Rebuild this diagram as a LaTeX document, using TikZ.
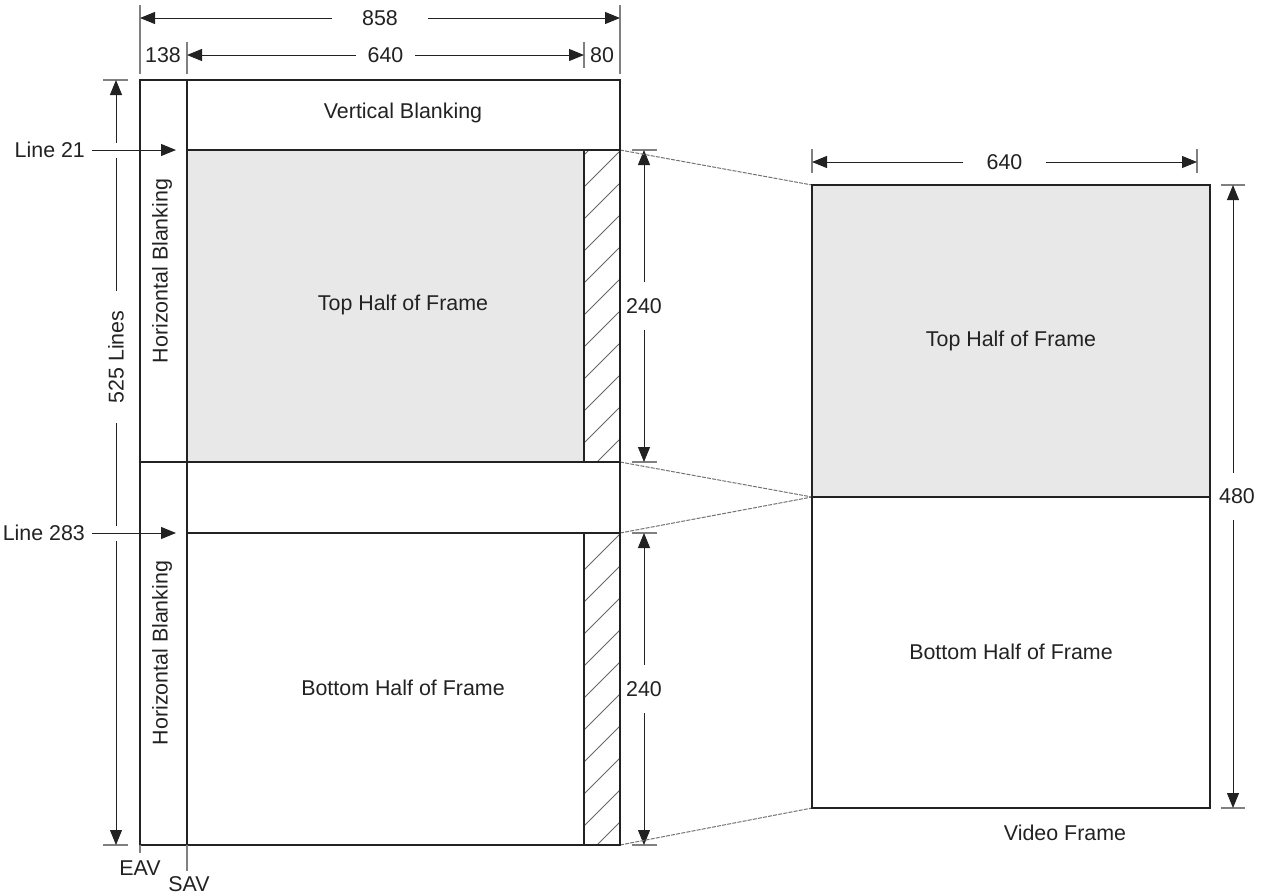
\documentclass[tikz,border=0pt]{standalone}
\usepackage{fontspec}
\setmainfont{Liberation Sans}
\usetikzlibrary{arrows.meta}
\definecolor{framegray}{HTML}{E8E8E8}
\definecolor{inkdark}{HTML}{222222}
\tikzset{
  frameline/.style={draw=inkdark, line width=1.2pt},
  dimtip/.tip={Triangle[length=7.5pt,width=6pt]},
  dimline/.style={draw=inkdark, line width=0.5pt, dimtip-dimtip},
  pointer/.style={draw=inkdark, line width=0.5pt, -dimtip},
  tickline/.style={draw=black!50, line width=0.6pt},
  hatchline/.style={draw=black!60, line width=0.5pt},
  linkline/.style={draw=black!55, line width=0.5pt, dash pattern=on 2pt off 0.6pt},
  dimlabel/.style={fill=white, inner ysep=1pt},
}
\begin{document}
\begin{tikzpicture}[x=0.5pt, y=-0.5pt, every node/.style={font=\fontsize{10.7}{12}\selectfont, text=inkdark}]
  \useasboundingbox (0,0) rectangle (1266,895);

  % corners of the left (interlaced) frame
  \coordinate (eavtop) at (140,80);
  \coordinate (eavbot) at (140,845);
  \coordinate (savtop) at (187,80);
  \coordinate (savbot) at (187,845);
  \coordinate (endtop) at (620,80);
  \coordinate (endbot) at (620,845);
  \coordinate (hatchtop) at (584,150);
  \coordinate (hatchbot) at (584,845);

  % corners of the right (video) frame
  \coordinate (vftl) at (812,185);
  \coordinate (vfml) at (812,497);
  \coordinate (vfbl) at (812,808);
  \coordinate (vftr) at (1210,185);
  \coordinate (vfmr) at (1210,497);
  \coordinate (vfbr) at (1210,808);

  % ticks above the left frame
  \draw[tickline] (140,5) -- (140,74);
  \draw[tickline] (620,5) -- (620,74);
  \draw[tickline] (187,42) -- (187,74);
  \draw[tickline] (584,42) -- (584,68);
  \coordinate (w858l) at (140,18);
  \coordinate (w858r) at (620,18);
  \draw[dimline] (w858l) -- node[dimlabel, inner xsep=15pt] (lbl858) {858} (w858r);
  \coordinate (w640l) at (187,55);
  \coordinate (w640r) at (584,55);
  \draw[dimline] (w640l) -- node[dimlabel, inner xsep=6pt] (lbl640) {640} (w640r);
  \node (lbl138) at (163,55) {138};
  \node (lbl80) at (602,55) {80};

  % 525 lines
  \draw[tickline] (103,80) -- (128,80);
  \draw[tickline] (103,845) -- (128,845);
  \coordinate (h525t) at (116,80);
  \coordinate (h525b) at (116,845);
  \draw[dimline] (h525b) -- node[dimlabel, rotate=90, inner xsep=10pt, pos=0.638] (lbl525) {525 Lines} (h525t);
  \draw[white, line width=7.5pt] (108,150) -- (124,150);
  \draw[white, line width=7.5pt] (108,533) -- (124,533);

  % line markers
  \node[anchor=east] (line21) at (92,150) {Line 21};
  \coordinate (hit21) at (176,150);
  \draw[pointer] (line21) -- (hit21);
  \node[anchor=east] (line283) at (92,533) {Line 283};
  \coordinate (hit283) at (176,533);
  \draw[pointer] (line283) -- (hit283);

  % 240 dimensions
  \draw[tickline] (632,150) -- (657,150);
  \draw[tickline] (632,462) -- (657,462);
  \draw[tickline] (632,533) -- (657,533);
  \draw[tickline] (632,845) -- (657,845);
  \coordinate (h240at) at (644,150);
  \coordinate (h240ab) at (644,462);
  \coordinate (h240bt) at (644,533);
  \coordinate (h240bb) at (644,845);
  \draw[dimline] (h240at) -- node[dimlabel, inner ysep=8pt, inner xsep=1pt] (lbl240a) {240} (h240ab);
  \draw[dimline] (h240bt) -- node[dimlabel, inner ysep=8pt, inner xsep=1pt] (lbl240b) {240} (h240bb);

  % links between the frames
  \draw[linkline] (620,150) -- (vftl);
  \draw[linkline] (620,462) -- (vfml);
  \draw[linkline] (620,533) -- (vfml);
  \draw[linkline] (endbot) -- (vfbl);

  % left frame
  \fill[framegray] (hatchtop) rectangle (187,462);
  \begin{scope}
    \clip (584,150) rectangle (620,462);
    \foreach \y in {155,187,...,507}
      \draw[hatchline] (584,\y) -- ++(36,-36);
  \end{scope}
  \begin{scope}
    \clip (584,533) rectangle (620,845);
    \foreach \y in {570,602,...,890}
      \draw[hatchline] (584,\y) -- ++(36,-36);
  \end{scope}
  \draw[frameline] (eavtop) rectangle (endbot);
  \draw[frameline] (savtop) -- (savbot);
  \draw[frameline] (187,150) -- (620,150);
  \draw[frameline] (140,462) -- (620,462);
  \draw[frameline] (187,533) -- (620,533);
  \draw[frameline] (hatchtop) -- (584,462);
  \draw[frameline] (584,533) -- (hatchbot);
  \node (vblank) at (403,113) {Vertical Blanking};
  \node[rotate=90] (hblanka) at (162,271) {Horizontal Blanking};
  \node[rotate=90] (hblankb) at (162,653) {Horizontal Blanking};
  \node (tophalfa) at (403,305) {Top Half of Frame};
  \node (bothalfa) at (403,688) {Bottom Half of Frame};

  % EAV / SAV
  \draw[tickline] (eavbot) -- (140,853);
  \draw[tickline] (savbot) -- (187,871);
  \node[inner sep=0pt] (eav) at (140,868) {EAV};
  \node[inner sep=0pt] (sav) at (189,884) {SAV};

  % right frame
  \fill[framegray] (vftl) rectangle (vfmr);
  \draw[frameline] (vftl) rectangle (vfbr);
  \draw[frameline] (vfml) -- (vfmr);
  \node (tophalfb) at (1011,341) {Top Half of Frame};
  \node (bothalfb) at (1011,652) {Bottom Half of Frame};
  \node (vframe) at (1065,833) {Video Frame};

  % right frame dimensions
  \draw[tickline] (812,149) -- (812,173);
  \draw[tickline] (1197,149) -- (1197,173);
  \coordinate (w640bl) at (812,162);
  \coordinate (w640br) at (1197,162);
  \draw[dimline] (w640bl) -- node[dimlabel, inner xsep=12pt] (lbl640b) {640} (w640br);
  \draw[tickline] (1221,185) -- (1245,185);
  \draw[tickline] (1221,808) -- (1245,808);
  \coordinate (h480t) at (1233,185);
  \coordinate (h480b) at (1233,808);
  \draw[dimline] (h480t) -- node[dimlabel, inner ysep=8pt, inner xsep=1pt, xshift=2pt] (lbl480) {480} (h480b);
\end{tikzpicture}
\end{document}
